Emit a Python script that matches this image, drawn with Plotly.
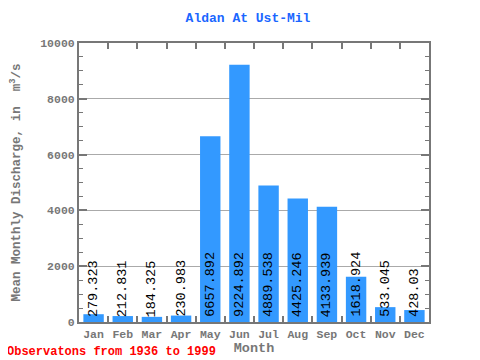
import plotly.graph_objects as go

months = ["Jan", "Feb", "Mar", "Apr", "May", "Jun", "Jul", "Aug", "Sep", "Oct", "Nov", "Dec"]
discharge = [279.323, 212.831, 184.325, 230.983, 6657.892, 9224.892, 4889.538, 4425.246, 4133.939, 1618.924, 533.045, 428.03]
labels = ["279.323", "212.831", "184.325", "230.983", "6657.892", "9224.892", "4889.538", "4425.246", "4133.939", "1618.924", "533.045", "428.03"]
y_ticks = [0, 2000, 4000, 6000, 8000, 10000]
y_tick_text = ["0", "2000", "4000", "6000", "8000", "10000"]

mono = "Liberation Mono"
gray = "#777777"

fig = go.Figure()
fig.add_trace(go.Bar(x=months, y=discharge, marker=dict(color="#3399ff", line=dict(width=0)),
                     hoverinfo="x+y"))

for m, lab in zip(months, labels):
    fig.add_annotation(x=m, y=0, text=lab, textangle=-90, showarrow=False,
                       xanchor="center", yanchor="bottom", yshift=3,
                       font=dict(family=mono, size=13.5, color="black"))

fig.update_layout(
    width=480, height=360,
    margin=dict(l=71, r=59, t=35, b=46, autoexpand=False),
    paper_bgcolor="white", plot_bgcolor="white",
    bargap=0.3,
    showlegend=False,
    title=dict(text="Aldan At Ust-Mil", x=0.5, xanchor="center", y=0.975, yanchor="middle",
               font=dict(family=mono, size=13, color="#1a66ff", weight="bold")),
    xaxis=dict(
        type="category", tickson="boundaries", ticks="inside", ticklen=6, tickwidth=2, tickcolor=gray,
        showline=True, linecolor=gray, linewidth=2, mirror="ticks",
        tickangle=0, automargin=False,
        tickfont=dict(family=mono, size=11.5, color=gray, weight="bold"),
        title=dict(text="Month", font=dict(family=mono, size=13.5, color=gray, weight="bold"), standoff=2),
        showgrid=False,
    ),
    yaxis=dict(
        range=[0, 10000], tickvals=y_ticks, ticktext=y_tick_text, automargin=False,
        ticks="inside", ticklen=8, tickwidth=2, tickcolor=gray,
        minor=dict(dtick=500, ticks="inside", ticklen=4, tickwidth=1, tickcolor=gray, showgrid=False),
        showline=True, linecolor=gray, linewidth=2, mirror="ticks",
        showgrid=True, gridcolor="#aaaaaa", gridwidth=1,
        tickfont=dict(family=mono, size=11.5, color=gray, weight="bold"),
        title=dict(text="Mean Monthly Discharge, in  m<sup>3</sup>/s",
                   font=dict(family=mono, size=12.5, color=gray, weight="bold"), standoff=22),
        zeroline=False,
    ),
)

fig.add_annotation(xref="paper", yref="paper", x=-74/350, y=-30/279, xanchor="left", yanchor="middle",
                   text="Observatons from 1936 to 1999", showarrow=False,
                   font=dict(family=mono, size=12, color="red", weight="bold"))

fig.write_html("out.html")
